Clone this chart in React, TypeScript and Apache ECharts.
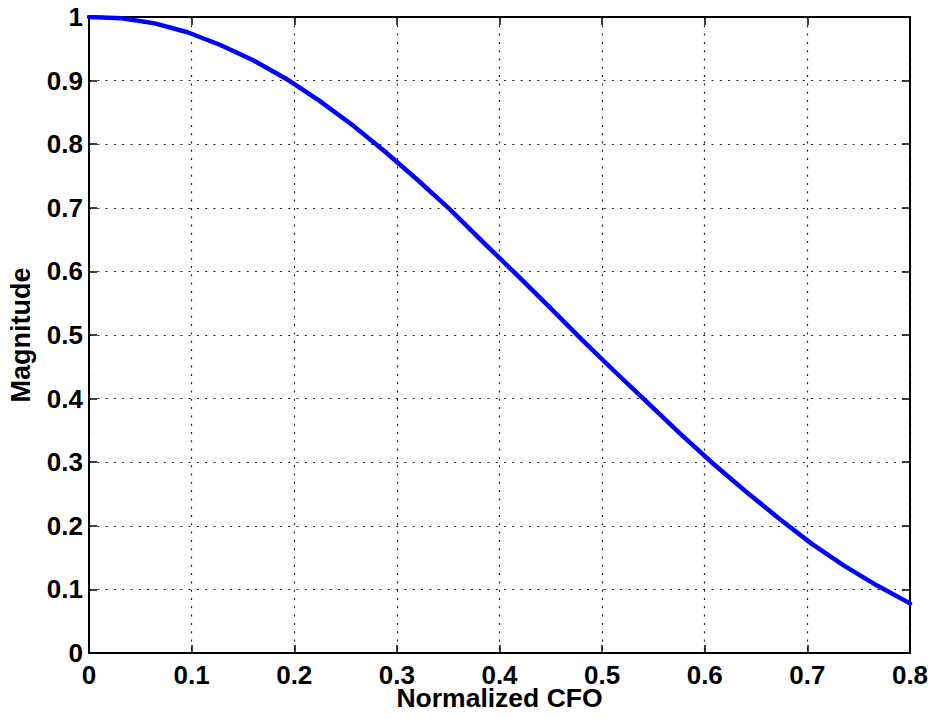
import React, { useEffect, useRef } from "react";
import * as echarts from "echarts";

const cfoValues = [
  0, 0.032, 0.064, 0.096, 0.128, 0.16, 0.192, 0.224, 0.256, 0.288, 0.32, 0.352, 0.384,
  0.416, 0.448, 0.48, 0.512, 0.544, 0.576, 0.608, 0.64, 0.672, 0.704, 0.736, 0.768, 0.8,
];
const magnitudeValues = [
  1.0, 0.998, 0.99, 0.976, 0.956, 0.932, 0.903, 0.869, 0.831, 0.789, 0.744, 0.697, 0.646,
  0.596, 0.545, 0.493, 0.443, 0.394, 0.345, 0.298, 0.254, 0.212, 0.172, 0.137, 0.106, 0.078,
];
const xTickLabels = ["0", "0.1", "0.2", "0.3", "0.4", "0.5", "0.6", "0.7", "0.8"];
const yTickLabels = ["0", "0.1", "0.2", "0.3", "0.4", "0.5", "0.6", "0.7", "0.8", "0.9", "1"];

const FONT = "'Liberation Sans', Arial, Helvetica, sans-serif";

export default function App() {
  const ref = useRef<HTMLDivElement>(null);

  useEffect(() => {
    document.body.style.margin = "0";
    if (!ref.current) return;
    const chart = echarts.init(ref.current, null, { renderer: "svg" });
    const axisLine = { show: true, onZero: false, lineStyle: { color: "#000", width: 2 } };
    const tick = { show: true, inside: true, length: 8, lineStyle: { color: "#000", width: 1.5 } };
    const split = { show: true, lineStyle: { color: "#222", width: 1.2, type: [2, 6.3] as any } };
    const labelStyle = { color: "#000", fontFamily: FONT, fontWeight: "bold" as const, fontSize: 26 };
    chart.setOption({
      animation: false,
      backgroundColor: "#fff",
      grid: { left: 89, right: 26, top: 17, bottom: 66, containLabel: false, outerBoundsMode: "none" },
      xAxis: [
        {
          type: "value",
          min: 0,
          max: 0.8,
          interval: 0.1,
          position: "bottom",
          axisLine,
          axisTick: tick,
          splitLine: split,
          axisLabel: {
            ...labelStyle,
            lineHeight: 18,
            margin: 13,
            formatter: (v: number) => xTickLabels[Math.round(v / 0.1)] ?? "",
          },
          name: "Normalized CFO",
          nameLocation: "middle",
          nameGap: 45,
          nameMoveOverlap: false,
          nameTextStyle: {
            color: "#000",
            fontFamily: FONT,
            fontWeight: "bold",
            fontSize: 26.5,
            lineHeight: 20,
            verticalAlign: "middle",
          },
        },
        {
          type: "value",
          min: 0,
          max: 0.8,
          interval: 0.1,
          position: "top",
          axisLine,
          axisTick: tick,
          splitLine: { show: false },
          axisLabel: { show: false },
        },
      ],
      yAxis: [
        {
          type: "value",
          min: 0,
          max: 1,
          interval: 0.1,
          position: "left",
          axisLine,
          axisTick: tick,
          splitLine: split,
          axisLabel: {
            ...labelStyle,
            margin: 6,
            formatter: (v: number) => yTickLabels[Math.round(v / 0.1)] ?? "",
          },
          name: "Magnitude",
          nameLocation: "middle",
          nameGap: 55,
          nameRotate: 90,
          nameMoveOverlap: false,
          nameTextStyle: { color: "#000", fontFamily: FONT, fontWeight: "bold", fontSize: 27 },
        },
        {
          type: "value",
          min: 0,
          max: 1,
          interval: 0.1,
          position: "right",
          axisLine,
          axisTick: tick,
          splitLine: { show: false },
          axisLabel: { show: false },
        },
      ],
      series: [
        {
          type: "line",
          xAxisIndex: 0,
          yAxisIndex: 0,
          showSymbol: false,
          symbol: "none",
          lineStyle: { color: "#0000ff", width: 4.5, join: "round", cap: "round" },
          data: cfoValues.map((x, i) => [x, magnitudeValues[i]]),
          z: 5,
        },
      ],
    });
    return () => chart.dispose();
  }, []);

  return (
    <div
      ref={ref}
      style={{ position: "fixed", left: 0, top: 0, width: 936, height: 719, background: "#fff" }}
    />
  );
}
